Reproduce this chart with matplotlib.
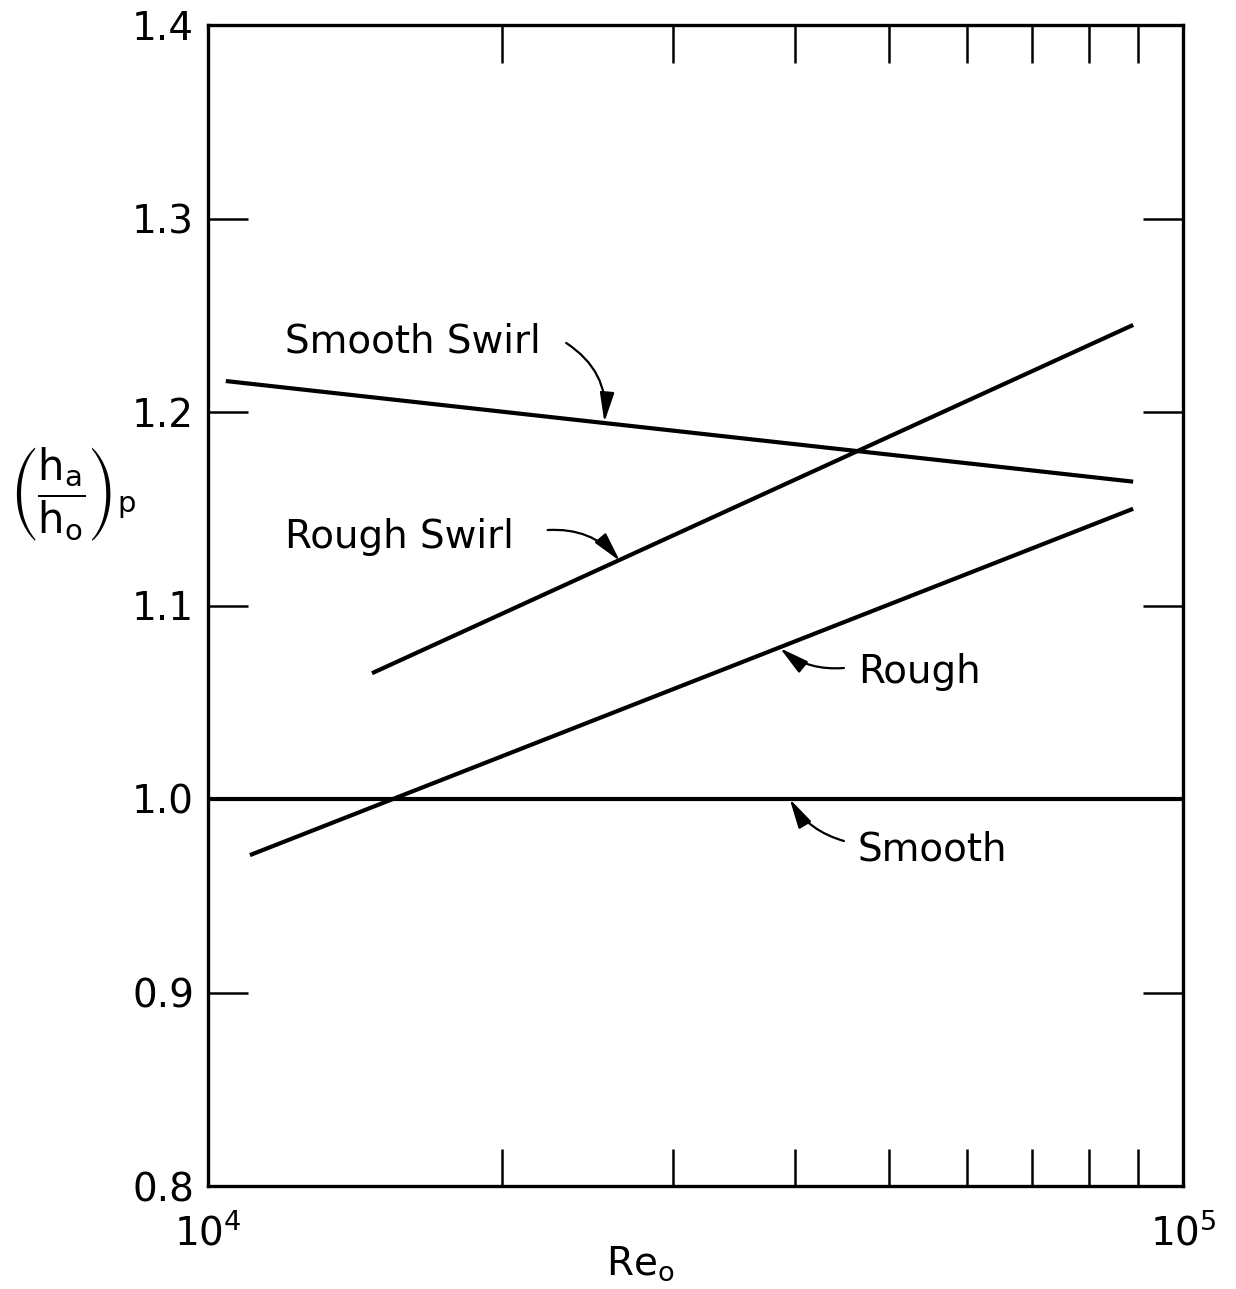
import matplotlib
matplotlib.use('Agg')
import matplotlib.pyplot as plt
import numpy as np

# --- data (Re_o, (ha/ho)_p) ---
smooth_re = [1.0e4, 1.0e5]
smooth_h = [1.0, 1.0]
smooth_swirl_re = [1.043e4, 8.89e4]
smooth_swirl_h = [1.216, 1.164]
rough_swirl_re = [1.473e4, 8.89e4]
rough_swirl_h = [1.065, 1.245]
rough_re = [1.104e4, 8.89e4]
rough_h = [0.971, 1.150]

y_ticks = [0.8, 0.9, 1.0, 1.1, 1.2, 1.3, 1.4]
y_tick_labels = ['0.8', '0.9', '1.0', '1.1', '1.2', '1.3', '1.4']

# label text, text baseline position, arrow start, arrow tip, curvature
labels = [
    ('Smooth Swirl', (1.20e4, 1.231), (2.33e4, 1.2357), (2.55e4, 1.1948), -0.3),
    ('Rough Swirl', (1.20e4, 1.1297), (2.23e4, 1.1390), (2.645e4, 1.1230), -0.25),
    ('Rough', (4.64e4, 1.060), (4.49e4, 1.0677), (3.86e4, 1.0780), -0.2),
    ('Smooth', (4.64e4, 0.968), (4.49e4, 0.9783), (3.95e4, 1.0000), -0.2),
]

fig = plt.figure(figsize=(12.36, 12.89), dpi=100)
ax = fig.add_axes([208 / 1236, 1 - 1186 / 1289, 975 / 1236, 1161 / 1289])

lw = 3.0
for xs, ys in [(smooth_re, smooth_h), (smooth_swirl_re, smooth_swirl_h),
               (rough_swirl_re, rough_swirl_h), (rough_re, rough_h)]:
    ax.plot(xs, ys, color='black', linewidth=lw, solid_capstyle='butt')

for text, tpos, start, tip, rad in labels:
    ax.text(tpos[0], tpos[1], text, fontsize=28, ha='left', va='baseline')
    ax.annotate('', xy=tip, xytext=start,
                arrowprops=dict(arrowstyle='-|>,head_length=0.9,head_width=0.22',
                                connectionstyle=f'arc3,rad={rad}',
                                color='black', lw=1.6, mutation_scale=20,
                                shrinkA=0, shrinkB=0))

ax.set_xscale('log')
ax.set_xlim(1e4, 1e5)
ax.set_ylim(0.8, 1.4)

ax.set_xticks([1e4, 1e5])
ax.set_xticklabels([r'$10^4$', r'$10^5$'], fontsize=28)
ax.set_xticks([k * 1e4 for k in range(2, 10)], minor=True)
ax.xaxis.set_minor_formatter(matplotlib.ticker.NullFormatter())
ax.set_yticks(y_ticks)
ax.set_yticklabels(y_tick_labels, fontsize=28)

ax.tick_params(axis='x', which='both', direction='in', top=True, bottom=True,
               length=27, width=1.8, pad=20)
ax.tick_params(axis='y', which='major', direction='in', left=True, right=True,
               length=29, width=1.8, pad=10)
for s in ax.spines.values():
    s.set_linewidth(2.4)

ax.set_xlabel(r'$\mathregular{Re_o}$', fontsize=28)
ax.xaxis.set_label_coords(0.443, -0.05)

fig.text(72 / 1236, 1 - 495 / 1289,
         r'$\left(\dfrac{\mathrm{h_a}}{\mathrm{h_o}}\right)_{\mathrm{p}}$',
         fontsize=30, ha='center', va='center')

fig.savefig('out.png', dpi=100)
